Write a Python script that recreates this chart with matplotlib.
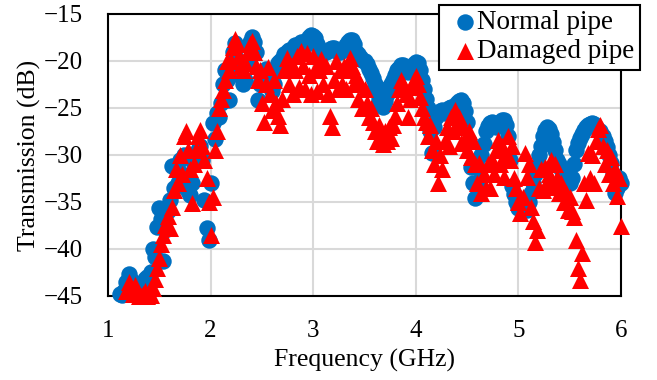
import numpy as np
import matplotlib
matplotlib.use("Agg")
import matplotlib.pyplot as plt

plt.rcParams['font.family'] = ['Liberation Serif', 'DejaVu Serif']

# frequency sweep, 0.02 GHz step
freq = np.round(np.arange(1.10, 6.001, 0.02), 2)

# Normal pipe (dB), one row per 0.2 GHz starting at 1.10
normal = [
    np.nan, -44.8, -44.9, -44.5, -43.5, -42.7, -43.3, -44.2, -44.8, -45.0,
    -45.0, -44.8, -44.0, -43.2, -43.0, -44.6, -42.5, -40.0, -40.8, -37.7,
    -35.6, -36.8, -41.3, -38.0, -36.0, -34.8, -31.2, -33.5, -31.5, -33.0,
    -30.5, -32.0, -30.0, -32.5, -33.8, -34.3, -33.0, -31.0, -30.0, -29.5,
    -29.0, -30.5, -34.8, -37.8, -39.0, -33.0, -26.6, -28.3, -25.5, -26.0,
    -24.5, -22.5, -21.0, -22.0, -24.2, -21.5, -19.0, -18.1, -18.5, -20.0,
    -21.5, -22.4, -22.0, -20.0, -18.0, -17.4, -18.0, -19.0, -24.1, -22.5,
    -22.0, -21.2, -20.8, -21.5, -22.5, -23.2, -22.5, -21.0, -20.2, -20.0,
    -19.8, -19.3, -19.0, -18.8, -19.0, -18.6, -18.3, -18.5, -18.2, -18.0,
    -18.0, -18.3, -17.8, -17.4, -17.2, -17.3, -17.6, -18.2, -18.8, -19.0,
    -19.2, -19.0, -18.9, -18.7, -18.6, -18.6, -18.8, -19.0, -19.0, -18.8,
    -18.6, -18.3, -18.0, -17.8, -17.8, -18.2, -19.0, -19.3, -19.6, -19.9,
    -20.0, -20.3, -20.8, -21.3, -21.8, -22.5, -23.2, -24.0, -24.6, -24.9,
    -24.3, -23.5, -22.8, -22.4, -22.0, -21.5, -21.0, -20.7, -20.4, -20.4,
    -20.8, -21.2, -21.0, -20.6, -20.3, -20.1, -20.2, -21.0, -22.0, -23.0,
    -24.0, -25.0, -27.5, -29.8, -27.0, -26.0, -25.6, -25.3, -25.2, -25.5,
    -25.4, -25.0, -24.9, -25.2, -24.8, -24.5, -24.3, -24.2, -24.5, -25.3,
    -26.5, -28.5, -31.3, -33.0, -34.6, -33.0, -31.5, -30.0, -28.8, -27.5,
    -26.9, -26.6, -26.5, -26.7, -27.0, -26.8, -26.5, -26.3, -26.3, -26.8,
    -28.0, -30.5, -33.3, -34.2, -35.0, -35.6, -35.2, -34.8, -35.3, -35.9,
    -35.0, -34.0, -33.0, -32.0, -31.3, -30.0, -29.0, -28.0, -27.3, -27.0,
    -27.2, -27.8, -28.6, -29.5, -30.5, -31.0, -31.5, -32.0, -32.5, -32.8,
    -33.0, -32.5, -31.0, -29.5, -28.7, -28.2, -27.8, -27.3, -27.0, -26.8,
    -26.7, -26.6, -26.7, -27.0, -27.3, -27.5, -28.0, -28.5, -29.2, -30.0,
    -30.8, -32.0, -34.0, -33.5, -32.5, -33.0,
]

# Damaged pipe (dB)
damaged = [
    np.nan, np.nan, np.nan, np.nan, -44.5, -43.5, -44.3, -44.8, -43.8, -44.6,
    -45.0, -45.0, -44.8, -44.5, -45.0, -44.8, -44.9, -44.2, -43.2, -42.0,
    -41.0, -39.5, -38.5, -37.5, -36.5, -37.8, -35.5, -33.7, -31.5, -33.0,
    -30.0, -32.0, -28.0, -27.4, -29.5, -31.5, -35.1, -31.0, -29.5, -28.0,
    -27.3, -29.0, -30.5, -32.5, -35.0, -38.5, -34.5, -29.5, -27.5, -25.0,
    -24.0, -23.1, -22.0, -20.0, -21.0, -20.0, -18.5, -17.7, -18.2, -19.5,
    -20.5, -21.0, -20.2, -19.0, -18.2, -17.9, -19.0, -20.5, -22.0, -21.0,
    -24.5, -26.5, -22.5, -20.6, -23.5, -25.2, -22.0, -24.5, -25.8, -26.8,
    -24.0, -21.0, -19.7, -22.5, -20.5, -23.5, -21.0, -19.5, -22.8, -18.9,
    -20.5, -23.0, -19.2, -21.5, -23.5, -19.5, -20.8, -23.2, -21.0, -19.8,
    -22.5, -20.5, -23.5, -25.8, -27.0, -22.0, -20.0, -23.0, -21.0, -22.5,
    -20.5, -23.0, -21.0, -19.7, -20.5, -22.5, -21.5, -24.0, -22.4, -25.0,
    -23.0, -24.5, -26.0, -25.0, -26.5, -27.5, -28.5, -26.8, -28.0, -28.8,
    -27.5, -28.5, -27.0, -28.2, -26.8, -25.8, -24.5, -23.0, -22.0, -22.5,
    -23.5, -26.0, -24.0, -22.8, -22.0, -21.6, -22.5, -23.8, -25.0, -26.0,
    -26.5, -28.0, -26.8, -29.5, -31.0, -28.5, -33.0, -30.0, -31.5, -28.5,
    -27.0, -29.0, -26.0, -27.5, -25.2, -27.0, -26.0, -28.7, -27.0, -28.2,
    -29.5, -27.5, -30.2, -28.5, -31.0, -33.0, -30.9, -34.0, -32.0, -33.5,
    -31.0, -33.5, -30.5, -32.0, -29.5, -28.4, -31.0, -29.0, -32.3, -30.0,
    -28.0, -30.5, -29.0, -32.5, -33.5, -35.0, -36.2, -34.5, -29.8, -32.3,
    -31.0, -35.5, -37.0, -39.3, -38.0, -33.5, -31.5, -33.7, -31.3, -33.0,
    -32.0, -30.5, -33.4, -31.0, -32.5, -34.0, -33.0, -35.0, -34.0, -35.9,
    -34.5, -36.0, -36.6, -39.0, -42.0, -43.3, -40.4, -33.0, -34.8, -29.8,
    -32.5, -30.0, -33.0, -28.5, -27.2, -26.8, -29.0, -31.0, -29.5, -32.0,
    -30.2, -33.0, -31.5, -34.4, -32.5, -37.6,
]

xticks = [1, 2, 3, 4, 5, 6]
yticks = [-45, -40, -35, -30, -25, -20, -15]

fig = plt.figure(figsize=(6.57, 3.80), dpi=100)
ax = fig.add_axes([0.1644, 0.2211, 0.7808, 0.7421])

ax.scatter(freq, normal, s=140, marker='o', color='#0070C0', linewidths=0,
           label='Normal pipe', zorder=3, clip_on=False)
ax.scatter(freq, damaged, s=150, marker='^', color='#FF0000', linewidths=0,
           label='Damaged pipe', zorder=4, clip_on=False)

ax.set_xlim(1, 6)
ax.set_ylim(-45, -15)
ax.set_xticks(xticks)
ax.set_yticks(yticks)
ax.grid(True, color='#D9D9D9', linewidth=1.5, zorder=0)
ax.set_axisbelow(True)
ax.tick_params(length=0, labelsize=18, pad=17)
ax.tick_params(axis='y', pad=18)
for sp in ax.spines.values():
    sp.set_linewidth(1.5)
    sp.set_color('black')
    sp.set_zorder(2)

ax.set_xlabel('Frequency (GHz)', fontsize=18.5, labelpad=5)
ax.set_ylabel('Transmission (dB)', fontsize=18.5, labelpad=2)

leg = ax.legend(loc='upper right', bbox_to_anchor=(0.974, 0.987),
                bbox_transform=fig.transFigure, fontsize=19.5, frameon=True,
                fancybox=False, edgecolor='black', framealpha=1,
                borderaxespad=0, handletextpad=-0.3, borderpad=0.2,
                labelspacing=0.15, handlelength=1.5)
leg.get_frame().set_linewidth(1.5)
leg.set_zorder(10)

fig.savefig('out.png', dpi=100)
